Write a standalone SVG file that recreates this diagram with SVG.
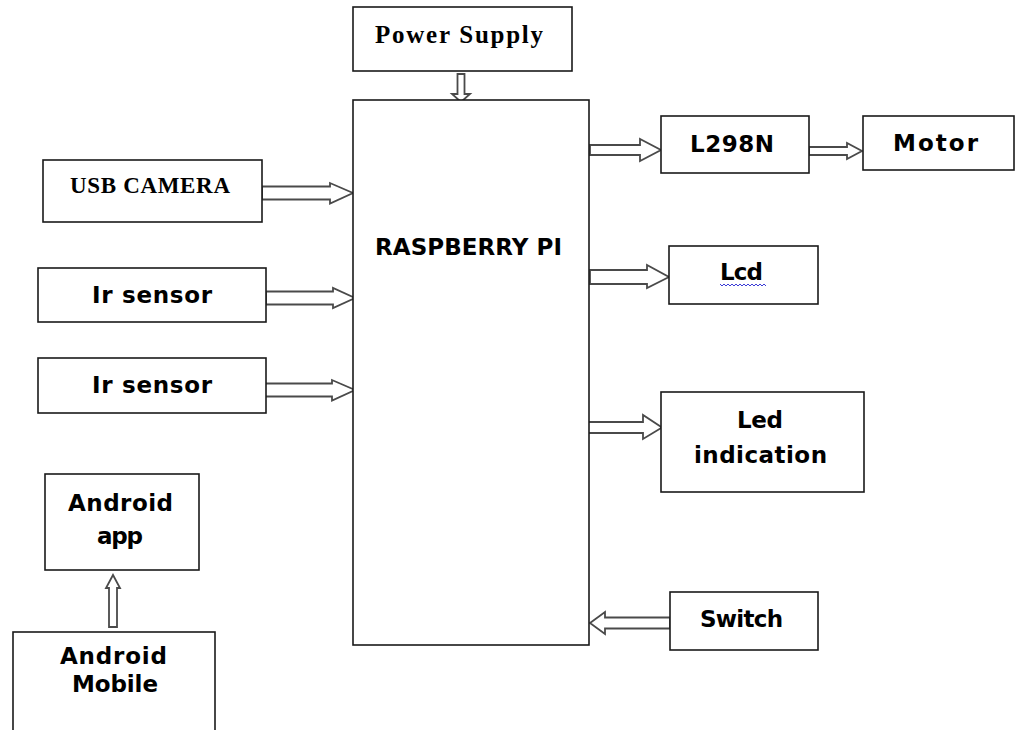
<svg xmlns="http://www.w3.org/2000/svg" width="1021" height="730" viewBox="0 0 1021 730">
<style>
.box{fill:#fff;stroke:#1a1a1a;stroke-width:1.6}
.arr{fill:#fff;stroke:#4a4a4a;stroke-width:1.8;stroke-linejoin:miter}
.t{font-family:"DejaVu Sans","Verdana",sans-serif;font-weight:bold;font-size:23px;fill:#000}
.s{font-family:"Liberation Serif","Times New Roman",serif;font-weight:bold;font-size:25px;fill:#000}
</style>
<rect x="0" y="0" width="1021" height="730" fill="#fff"/>
<g id="connectors">
<polygon class="arr" points="457.5,74 464.5,74 464.5,94 470,94 461,102 452,94 457.5,94"/>
<polygon class="arr" points="262,186.5 330,186.5 330,183 353,193 330,203.5 330,199.5 262,199.5"/>
<polygon class="arr" points="266,291.5 333,291.5 333,288 355,298 333,308 333,304.5 266,304.5"/>
<polygon class="arr" points="263,383.5 332,383.5 332,380 355,390 332,400.5 332,396.5 263,396.5"/>
<polygon class="arr" points="590,145 640,145 640,139 661,150 640,161 640,155 590,155"/>
<polygon class="arr" points="809,147 847,147 847,143 862,151 847,159 847,155 809,155"/>
<polygon class="arr" points="590,270 647,270 647,265 669,277 647,288 647,284 590,284"/>
<polygon class="arr" points="587,422 643,422 643,415 662,427.5 643,439 643,433 587,433"/>
<polygon class="arr" points="670,617.5 605,617.5 605,612 590,623 605,634 605,628.5 670,628.5"/>
<polygon class="arr" points="109,627 109,588 106,588 113,575 120,588 117,588 117,627"/>
</g>
<g id="power-supply">
<rect class="box" x="353" y="7" width="219" height="64"/>
<text class="s" x="375" y="43" textLength="168" lengthAdjust="spacing">Power Supply</text>
</g>
<g id="raspberry-pi">
<rect class="box" x="353" y="100" width="236" height="545"/>
<text class="t" x="375" y="255" textLength="187" lengthAdjust="spacing">RASPBERRY PI</text>
</g>
<g id="usb-camera">
<rect class="box" x="43" y="160" width="219" height="62"/>
<text class="s" x="70" y="193" style="font-size:23px" textLength="160" lengthAdjust="spacing">USB CAMERA</text>
</g>
<g id="ir-sensor-1">
<rect class="box" x="38" y="268" width="228" height="54"/>
<text class="t" x="92" y="303" textLength="120" lengthAdjust="spacing">Ir sensor</text>
</g>
<g id="ir-sensor-2">
<rect class="box" x="38" y="358" width="228" height="55"/>
<text class="t" x="92" y="393" textLength="120" lengthAdjust="spacing">Ir sensor</text>
</g>
<g id="l298n">
<rect class="box" x="661" y="116" width="148" height="57"/>
<text class="t" x="690" y="152" textLength="84" lengthAdjust="spacing">L298N</text>
</g>
<g id="motor">
<rect class="box" x="863" y="116" width="151" height="54"/>
<text class="t" x="893" y="151" textLength="85" lengthAdjust="spacing">Motor</text>
</g>
<g id="lcd">
<rect class="box" x="669" y="246" width="149" height="58"/>
<text class="t" x="720" y="280" textLength="43" lengthAdjust="spacing">Lcd</text>
<polyline points="720,284 722,286 724,284 726,286 728,284 730,286 732,284 734,286 736,284 738,286 740,284 742,286 744,284 746,286 748,284 750,286 752,284 754,286 756,284 758,286 760,284 762,286 764,284 766,286" fill="none" stroke="#3b3bd6" stroke-width="1"/>
</g>
<g id="led-indication">
<rect class="box" x="661" y="392" width="203" height="100"/>
<text class="t" x="737" y="428" textLength="46" lengthAdjust="spacing">Led</text>
<text class="t" x="694" y="463" textLength="133" lengthAdjust="spacing">indication</text>
</g>
<g id="switch">
<rect class="box" x="670" y="592" width="148" height="58"/>
<text class="t" x="700" y="627" textLength="83" lengthAdjust="spacing">Switch</text>
</g>
<g id="android-app">
<rect class="box" x="45" y="474" width="154" height="96"/>
<text class="t" x="68" y="511" textLength="105" lengthAdjust="spacing">Android</text>
<text class="t" x="97" y="544" textLength="46" lengthAdjust="spacing">app</text>
</g>
<g id="android-mobile">
<rect class="box" x="13" y="632" width="202" height="110"/>
<text class="t" x="60" y="664" textLength="107" lengthAdjust="spacing">Android</text>
<text class="t" x="72" y="692" textLength="86" lengthAdjust="spacing">Mobile</text>
</g>
</svg>
